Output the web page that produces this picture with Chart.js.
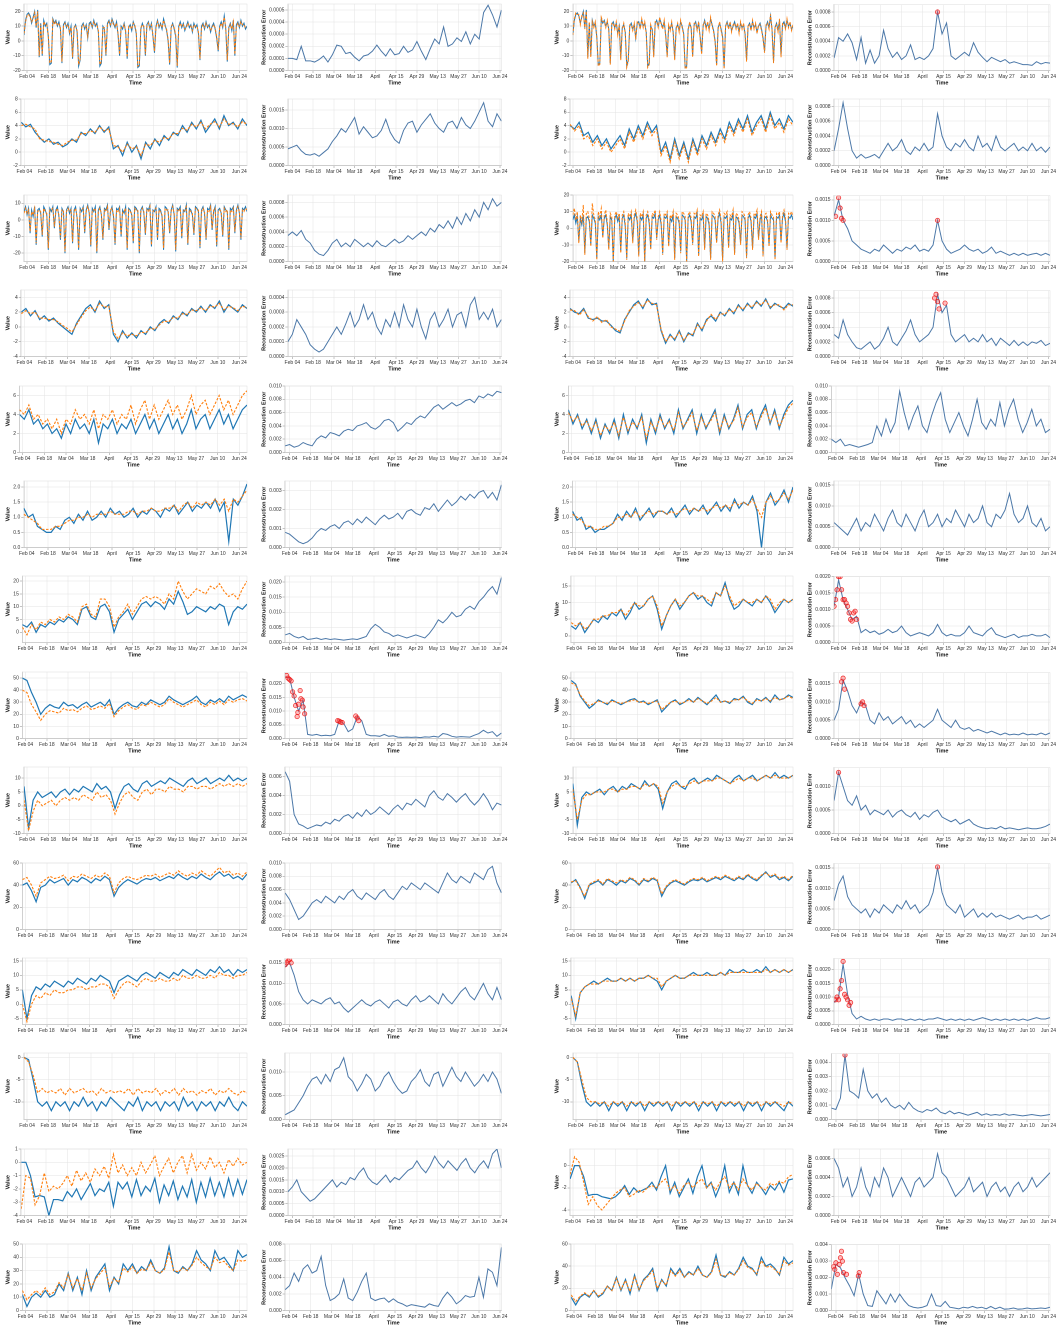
<!DOCTYPE html>
<html><head><meta charset="utf-8">
<script src="https://cdn.jsdelivr.net/npm/chart.js@4.4.1/dist/chart.umd.min.js"></script>
<style>
html,body{margin:0;padding:0;background:#fff;width:1061px;height:1329px;overflow:hidden;position:relative}
canvas{position:absolute}
</style></head><body>
<script>
// ---- time axis (days counted from Feb 04); samples are evenly spaced over each range ----
const X_TICK_DAYS = [0,14,28,42,56,70,84,98,112,126,140];
const X_TICK_LABELS = ['Feb 04','Feb 18','Mar 04','Mar 18','April','Apr 15','Apr 29','May 13','May 27','Jun 10','Jun 24'];
const VALUE_RANGE = [-2,145];
const ERROR_RANGE = [-3,141];

// ================= ROW 1 (daily samples) =================
const A1_actual=[4,14,18,19,17,12,16,20,9,21, -11,12,-10,14,10,12,3,-16,-15,15, 12,14,10,13,8,-15,11,13,9,12, 5,10,-12,9,11,6,-17,-13,10,12, 8,11,2,12,13,9,14,10,12,6, -17,-15,10,8,-10,12,14,10,15,12, 9,13,4,-10,10,8,12,6,-12,9, 11,7,13,10,5,-18,-17,8,12,9, -10,11,13,8,12,3,-8,10,14,9, 12,8,15,11,7,0,-16,9,12,8, 3,-18,10,13,9,12,7,10,13,9, 11,6,12,9,11,5,-13,10,12,8, 13,9,11,6,10,12,8,2,-7,10, 13,9,17,8,-14,9,12,7,14,-10, 11,13,9,14,10,12,8,10];
const A1_recon=[5,13,17,18,16,13,15,19,10,20, -10,11,-9,13,11,11,4,-15,-14,14, 11,13,11,12,9,-14,10,12,10,11, 6,9,-11,10,10,7,-16,-12,9,11, 9,10,3,11,12,10,13,11,11,7, -16,-14,9,9,-9,11,13,11,14,11, 10,12,5,-9,9,9,11,7,-11,10, 10,8,12,11,6,-17,-16,9,11,10, -9,10,12,9,11,4,-7,9,13,10, 11,9,14,10,8,1,-15,10,11,9, 4,-17,9,12,10,11,8,9,12,10, 10,7,11,10,10,6,-12,9,11,9, 12,10,10,7,9,11,9,3,-6,9, 12,10,16,9,-13,8,11,8,13,-9, 10,12,10,13,11,11,9,9];
const A1_error=[1.0e-4,1.0e-4,0.9e-4,2.0e-4,0.8e-4,0.8e-4,0.7e-4,0.9e-4,1.2e-4,0.7e-4, 1.3e-4,2.1e-4,2.0e-4,1.4e-4,1.5e-4,1.1e-4,0.8e-4,1.2e-4,1.3e-4,1.6e-4, 2.1e-4,1.6e-4,1.2e-4,1.8e-4,1.3e-4,1.4e-4,2.0e-4,1.5e-4,1.7e-4,2.4e-4, 1.6e-4,0.9e-4,1.8e-4,2.6e-4,2.2e-4,3.6e-4,2.0e-4,2.2e-4,2.7e-4,2.4e-4, 3.2e-4,2.2e-4,3.0e-4,2.6e-4,4.8e-4,5.4e-4,4.6e-4,3.6e-4,5.0e-4];
const A1_vTicks=['-20','-10','0','10','20'], A1_vDom=[-20,25];
const A1_eTicks=['0.0000','0.0001','0.0002','0.0003','0.0004','0.0005'], A1_eDom=[0,5.5e-4];
const B1_actual=A1_actual;
const B1_recon=[4,15,19,18,18,11,17,19,8,20, -12,13,-11,13,9,13,2,-17,-16,16, 13,13,9,14,7,-16,12,12,8,13, 4,11,-13,8,12,5,-18,-14,11,11, 7,12,1,13,12,8,15,9,13,5, -18,-16,11,7,-11,13,13,9,16,11, 8,14,3,-11,11,7,13,5,-13,8, 12,6,14,9,4,-19,-18,7,13,8, -11,12,12,7,13,2,-9,11,13,8, 13,7,16,10,6,-1,-17,8,13,7, 2,-19,11,12,8,13,6,11,12,8, 12,5,13,8,12,4,-14,11,11,7, 14,8,12,5,11,11,7,1,-8,11, 12,8,18,7,-15,10,11,6,15,-11, 12,12,8,15,9,13,7,11];
const B1_error=[1.7e-4,4.5e-4,4.0e-4,5.0e-4,3.8e-4,1.5e-4,4.5e-4,1.0e-4,2.8e-4,1.0e-4, 2.0e-4,5.5e-4,3.0e-4,1.8e-4,2.5e-4,1.5e-4,2.0e-4,3.5e-4,1.5e-4,1.8e-4, 1.5e-4,2.0e-4,3.0e-4,8.0e-4,5.0e-4,6.5e-4,2.0e-4,1.5e-4,2.0e-4,2.5e-4, 2.0e-4,3.8e-4,2.5e-4,1.8e-4,1.2e-4,1.8e-4,1.5e-4,1.2e-4,1.5e-4,1.0e-4, 1.2e-4,1.0e-4,0.8e-4,0.8e-4,0.7e-4,1.2e-4,0.9e-4,1.1e-4,1.0e-4];
const B1_anom=[[66,8.0e-4]];
const B1_vTicks=['-20','-10','0','10','20'], B1_vDom=[-20,25];
const B1_eTicks=['0.0000','0.0002','0.0004','0.0006','0.0008'], B1_eDom=[0,9e-4];

// ================= ROW 2 =================
const A2_actual=[4.5,3.8,4.2,3.0,2.2,1.5,2.0,1.2,1.5,0.8, 1.2,2.0,1.5,3.0,2.5,3.5,2.8,4.0,3.0,3.8, 0.5,1.0,-0.5,1.5,0.0,1.0,-1.0,1.5,0.5,2.0, 1.0,2.5,1.8,3.0,2.5,4.0,3.0,4.5,3.5,4.8, 3.0,4.0,5.0,3.5,5.5,4.0,4.5,3.5,5.0,4.0];
const A2_recon=[4.0,4.2,3.8,3.5,2.0,1.8,1.6,1.5,1.2,1.0, 1.5,1.8,1.8,2.8,2.8,3.2,3.0,3.8,3.2,3.5, 1.0,0.8,0.0,1.2,0.5,0.8,-0.5,1.2,1.0,1.8, 1.5,2.2,2.0,2.8,2.8,3.6,3.3,4.2,3.8,4.5, 3.5,4.2,4.6,3.8,5.0,4.2,4.3,3.8,4.6,4.2];
const A2_error=[4.5e-4,5.0e-4,5.5e-4,4.0e-4,3.0e-4,2.8e-4,3.2e-4,2.5e-4,3.5e-4,4.5e-4, 6.5e-4,8.0e-4,10.0e-4,9.0e-4,11.0e-4,13.0e-4,8.5e-4,10.5e-4,9.0e-4,7.5e-4, 8.0e-4,9.5e-4,12.5e-4,9.0e-4,7.0e-4,6.0e-4,9.5e-4,11.5e-4,12.0e-4,9.0e-4, 11.0e-4,12.5e-4,14.0e-4,11.5e-4,10.0e-4,9.0e-4,11.5e-4,12.0e-4,10.0e-4,13.0e-4, 11.0e-4,10.0e-4,12.0e-4,14.5e-4,17.0e-4,12.0e-4,10.5e-4,14.0e-4,12.0e-4];
const A2_vTicks=['-2','0','2','4','6','8'], A2_vDom=[-2,8];
const A2_eTicks=['0.0000','0.0005','0.0010','0.0015'], A2_eDom=[0,1.8e-3];
const B2_actual=[4.0,3.5,4.5,2.5,3.0,1.5,2.5,1.0,2.0,0.5, 1.5,2.5,1.0,3.5,2.0,4.0,2.5,4.5,3.0,4.0, 0.0,1.5,-1.0,2.0,-0.5,1.5,-1.0,2.0,0.0,2.5, 1.0,3.0,1.5,3.5,2.0,4.5,3.0,5.0,3.5,5.5, 3.0,4.5,5.5,3.5,6.0,4.0,5.0,3.5,5.5,4.5];
const B2_recon=[4.2,3.2,4.0,2.0,2.5,1.0,2.0,0.5,1.5,0.0, 1.0,2.0,0.5,3.0,1.5,3.5,2.0,4.0,2.5,3.5, -0.5,1.0,-1.5,1.5,-1.0,1.0,-1.5,1.5,-0.5,2.0, 0.5,2.5,1.0,3.0,1.5,4.0,2.5,4.5,3.0,5.0, 2.5,4.0,5.0,3.0,5.5,3.5,4.5,3.0,5.0,4.0];
const B2_error=[2.0e-4,5.0e-4,8.5e-4,5.0e-4,2.0e-4,1.0e-4,1.5e-4,1.0e-4,1.2e-4,1.5e-4, 1.0e-4,2.0e-4,3.0e-4,2.0e-4,2.5e-4,3.5e-4,2.0e-4,1.5e-4,2.5e-4,2.0e-4, 3.0e-4,2.0e-4,2.5e-4,7.0e-4,4.0e-4,2.5e-4,2.0e-4,3.0e-4,2.5e-4,3.5e-4, 2.5e-4,2.0e-4,4.0e-4,2.5e-4,3.0e-4,2.0e-4,4.0e-4,2.5e-4,2.0e-4,2.5e-4, 3.0e-4,2.0e-4,2.5e-4,2.0e-4,3.0e-4,2.0e-4,2.5e-4,1.8e-4,2.5e-4];
const B2_vTicks=['-2','0','2','4','6','8'], B2_vDom=[-2,8];
const B2_eTicks=['0.0000','0.0002','0.0004','0.0006','0.0008'], B2_eDom=[0,9e-4];

// ================= ROW 3 (daily samples) =================
const A3_actual=[5,8,3,7,-8,6,2,8,-15,6, 7,4,-10,8,6,3,-18,7,5,8, -5,6,8,2,-12,7,5,-20,6,8, 4,7,-14,6,8,1,-18,7,5,8, -8,6,9,4,-16,7,5,8,-20,6, 8,3,-12,7,6,9,-6,5,8,2, -15,7,6,8,-10,6,4,8,-18,7, 6,3,-14,8,7,5,-20,6,8,4, -9,7,6,9,-16,6,5,8,-12,7, 6,2,-18,8,7,5,-8,6,9,3, -19,7,6,8,-11,6,5,9,-15,7, 6,3,-9,8,7,5,-17,6,8,4, -12,7,6,9,-6,5,8,-16,6,7, 4,-10,8,6,5,-18,7,6,8,-8, 6,9,4,-12,7,6,8,5];
const A3_recon=[4,7,4,6,-7,5,3,7,-14,5, 6,5,-9,7,5,4,-17,6,6,7, -4,5,7,3,-11,6,6,-19,5,7, 5,6,-13,5,7,2,-17,6,6,7, -7,5,8,5,-15,6,6,7,-19,5, 7,4,-11,6,5,8,-5,6,7,3, -14,6,5,7,-9,5,5,7,-17,6, 5,4,-13,7,6,6,-19,5,7,5, -8,6,5,8,-15,5,6,7,-11,6, 5,3,-17,7,6,6,-7,5,8,4, -18,6,5,7,-10,5,6,8,-14,6, 5,4,-8,7,6,6,-16,5,7,5, -11,6,5,8,-5,6,7,-15,5,6, 5,-9,7,5,6,-17,6,5,7,-7, 5,8,5,-11,6,5,7,6];
const A3_error=[3.5e-4,4.0e-4,3.5e-4,4.2e-4,3.0e-4,2.5e-4,1.5e-4,1.0e-4,0.8e-4,1.5e-4, 2.5e-4,3.0e-4,2.0e-4,2.5e-4,2.0e-4,3.0e-4,2.5e-4,2.0e-4,2.5e-4,2.0e-4, 2.8e-4,2.2e-4,2.0e-4,2.5e-4,3.0e-4,2.5e-4,2.8e-4,3.5e-4,3.0e-4,3.5e-4, 4.0e-4,3.5e-4,4.5e-4,4.0e-4,5.0e-4,4.5e-4,5.5e-4,4.5e-4,6.0e-4,5.0e-4, 6.5e-4,5.5e-4,7.0e-4,6.0e-4,8.0e-4,7.0e-4,8.5e-4,7.5e-4,8.0e-4];
const A3_vTicks=['-20','-10','0','10'], A3_vDom=[-25,15];
const A3_eTicks=['0.0000','0.0002','0.0004','0.0006','0.0008'], A3_eDom=[0,9e-4];
const B3_actual=A3_actual;
const B3_recon=[8,12,5,10,-9,8,4,14,-16,9, 10,6,-11,15,8,5,-19,10,7,12, -6,8,11,4,-13,9,7,-20,8,10, 6,9,-15,8,10,3,-19,9,7,10, -9,8,11,6,-17,9,7,10,-20,8, 10,5,-13,9,8,11,-7,7,10,4, -16,9,8,10,-11,8,6,10,-19,9, 8,5,-15,10,9,7,-20,8,10,6, -10,9,8,11,-17,8,7,10,-13,9, 8,4,-19,10,9,7,-9,8,11,5, -20,9,8,10,-12,8,7,11,-16,9, 8,5,-10,10,9,7,-18,8,10,6, -13,9,8,11,-7,7,10,-17,8,9, 6,-11,10,8,7,-19,9,8,10,-9, 8,11,6,-13,9,8,10,7];
const B3_error=[1.1e-3,1.5e-3,1.0e-3,0.8e-3,0.5e-3,0.4e-3,0.3e-3,0.25e-3,0.2e-3,0.3e-3, 0.25e-3,0.4e-3,0.3e-3,0.2e-3,0.3e-3,0.25e-3,0.35e-3,0.3e-3,0.4e-3,0.25e-3, 0.3e-3,0.25e-3,0.4e-3,1.0e-3,0.5e-3,0.3e-3,0.2e-3,0.25e-3,0.3e-3,0.4e-3, 0.3e-3,0.25e-3,0.3e-3,0.2e-3,0.25e-3,0.35e-3,0.2e-3,0.25e-3,0.2e-3,0.15e-3, 0.2e-3,0.15e-3,0.2e-3,0.15e-3,0.18e-3,0.2e-3,0.15e-3,0.2e-3,0.15e-3];
const B3_anom=[[-2,1.1e-3],[0,1.55e-3],[1,1.3e-3],[2,1.05e-3],[3,1.0e-3],[66,1.0e-3]];
const B3_vTicks=['-20','-10','0','10','20'], B3_vDom=[-20,20];
const B3_eTicks=['0.0000','0.0005','0.0010','0.0015'], B3_eDom=[0,1.6e-3];

// ================= ROW 4 =================
const A4_actual=[2.0,2.5,1.5,2.2,1.0,1.5,0.8,1.2,0.5,0.0, -0.5,-1.0,0.5,1.5,2.5,3.0,2.0,3.5,2.5,3.0, -1.0,-2.0,-0.5,-1.5,-0.8,-1.5,-0.5,-1.0,0.0,-0.5, 0.5,1.0,0.5,1.5,1.0,2.0,1.5,2.5,2.0,2.8, 2.0,3.0,2.5,3.5,2.0,3.0,2.5,2.0,3.0,2.5];
const A4_recon=[1.8,2.2,1.8,2.0,1.2,1.2,1.0,1.0,0.7,0.2, -0.2,-0.7,0.3,1.3,2.2,2.7,2.2,3.2,2.7,2.8, -0.6,-1.6,-0.8,-1.2,-1.0,-1.2,-0.7,-0.8,-0.2,-0.3, 0.3,0.8,0.7,1.3,1.2,1.8,1.7,2.3,2.2,2.6, 2.2,2.8,2.7,3.2,2.3,2.8,2.6,2.2,2.8,2.6];
const A4_error=[1.0e-4,1.5e-4,2.5e-4,2.0e-4,1.5e-4,0.8e-4,0.5e-4,0.3e-4,0.5e-4,1.0e-4, 1.5e-4,2.0e-4,1.5e-4,2.2e-4,3.0e-4,2.0e-4,2.5e-4,3.5e-4,2.5e-4,3.0e-4, 2.0e-4,1.5e-4,2.5e-4,2.0e-4,3.0e-4,2.0e-4,3.5e-4,2.5e-4,2.0e-4,3.2e-4, 2.0e-4,1.2e-4,2.5e-4,3.0e-4,2.0e-4,2.5e-4,3.2e-4,2.0e-4,2.8e-4,3.0e-4, 2.0e-4,3.5e-4,4.0e-4,2.5e-4,3.0e-4,2.5e-4,3.2e-4,2.0e-4,2.5e-4];
const A4_vTicks=['-4','-2','0','2','4'], A4_vDom=[-4,5];
const A4_eTicks=['0.0000','0.0001','0.0002','0.0003','0.0004'], A4_eDom=[0,4.5e-4];
const B4_actual=[2.5,2.0,1.8,2.5,1.2,1.0,1.2,0.8,0.8,0.2, -0.5,-0.8,1.0,2.0,3.0,3.5,2.5,3.8,3.0,3.2, -0.5,-2.2,-1.0,-1.8,-0.5,-2.0,-0.8,-1.2,0.5,-0.5, 1.0,1.5,0.8,2.0,1.5,2.5,1.8,3.0,2.2,3.2, 2.5,3.5,2.8,3.8,2.5,3.2,2.8,2.5,3.2,2.8];
const B4_recon=[2.3,2.2,1.6,2.3,1.4,0.8,1.4,0.6,1.0,0.0, -0.3,-0.6,0.8,2.2,2.8,3.3,2.7,3.6,3.2,3.0, -0.3,-2.0,-1.2,-1.6,-0.7,-1.8,-1.0,-1.0,0.3,-0.3, 0.8,1.7,1.0,1.8,1.7,2.3,2.0,2.8,2.4,3.0, 2.7,3.3,3.0,3.6,2.7,3.0,3.0,2.3,3.0,3.0];
const B4_error=[3.0e-4,2.5e-4,5.0e-4,3.0e-4,2.0e-4,1.2e-4,1.0e-4,1.5e-4,2.0e-4,1.0e-4, 1.5e-4,2.5e-4,4.0e-4,2.0e-4,1.5e-4,2.5e-4,3.5e-4,5.0e-4,3.0e-4,2.0e-4, 2.5e-4,3.0e-4,4.0e-4,8.5e-4,6.0e-4,7.0e-4,3.0e-4,2.0e-4,2.5e-4,3.0e-4, 2.0e-4,2.5e-4,2.0e-4,3.0e-4,2.0e-4,2.5e-4,1.5e-4,2.5e-4,2.0e-4,1.5e-4, 2.2e-4,1.5e-4,2.0e-4,1.5e-4,2.0e-4,1.8e-4,2.2e-4,1.5e-4,1.8e-4];
const B4_anom=[[64,8.0e-4],[65,8.5e-4],[66,7.5e-4],[67,6.5e-4],[71,7.3e-4]];
const B4_vTicks=['-4','-2','0','2','4'], B4_vDom=[-4,5];
const B4_eTicks=['0.0000','0.0002','0.0004','0.0006','0.0008'], B4_eDom=[0,9e-4];

// ================= ROW 5 =================
const A5_actual=[4.0,3.5,4.5,3.0,3.5,2.5,3.0,2.0,2.5,1.5, 3.0,2.0,3.5,2.5,3.0,2.0,3.5,1.0,3.0,2.5, 3.5,2.0,3.0,2.5,3.5,2.0,3.0,4.0,2.5,3.5, 2.0,3.0,4.0,2.5,3.5,2.0,3.0,4.5,2.5,3.5, 4.0,2.5,3.5,4.5,3.0,4.0,2.5,3.5,4.5,5.0];
const A5_recon=[4.5,4.0,5.0,3.5,4.0,3.0,3.5,2.5,3.5,2.0, 3.5,3.0,4.5,3.5,4.0,3.0,4.5,2.5,4.0,3.5, 4.5,3.0,4.0,3.5,5.0,3.0,4.5,5.5,3.5,5.0, 3.5,4.5,5.5,4.0,5.0,3.5,4.5,6.0,4.0,5.0, 5.5,4.0,5.0,6.0,4.5,5.5,4.0,5.0,6.0,6.5];
const A5_error=[1.0e-3,1.2e-3,0.8e-3,1.0e-3,1.5e-3,1.2e-3,1.0e-3,2.0e-3,2.5e-3,2.2e-3, 3.0e-3,2.8e-3,2.5e-3,3.2e-3,3.5e-3,3.3e-3,4.0e-3,4.2e-3,4.5e-3,3.8e-3, 3.5e-3,4.0e-3,4.8e-3,5.0e-3,4.5e-3,3.2e-3,3.8e-3,4.5e-3,4.2e-3,5.0e-3, 5.5e-3,5.2e-3,6.0e-3,6.8e-3,7.2e-3,6.5e-3,7.0e-3,7.5e-3,7.0e-3,7.3e-3, 7.8e-3,8.0e-3,7.5e-3,8.5e-3,8.2e-3,8.8e-3,8.5e-3,9.2e-3,9.0e-3];
const A5_vTicks=['0','2','4','6'], A5_vDom=[0,7];
const A5_eTicks=['0.000','0.002','0.004','0.006','0.008','0.010'], A5_eDom=[0,0.010];
const B5_actual=[4.5,3.0,4.0,2.5,3.5,2.0,3.5,1.5,3.0,2.0, 3.5,1.5,4.0,2.0,3.5,2.5,4.0,1.0,3.5,2.0, 4.0,2.5,3.5,2.0,4.5,2.5,3.5,4.5,2.0,4.0, 2.5,3.5,4.5,2.0,4.0,2.5,3.5,5.0,2.5,4.0, 4.5,2.5,4.0,5.0,3.0,4.5,2.5,4.0,5.0,5.5];
const B5_recon=[4.2,3.3,3.8,2.8,3.3,2.3,3.2,1.8,2.8,2.3, 3.2,1.8,3.7,2.3,3.2,2.7,3.7,1.5,3.2,2.3, 3.7,2.7,3.3,2.3,4.2,2.7,3.3,4.2,2.3,3.7, 2.7,3.3,4.2,2.3,3.7,2.7,3.3,4.7,2.7,3.7, 4.2,2.7,3.7,4.7,3.2,4.2,2.7,3.7,4.7,5.2];
const B5_error=[2.0e-3,1.5e-3,2.0e-3,1.0e-3,1.2e-3,1.0e-3,0.8e-3,1.0e-3,1.2e-3,1.5e-3, 4.0e-3,2.5e-3,5.0e-3,3.0e-3,4.5e-3,9.2e-3,6.0e-3,3.5e-3,5.5e-3,7.0e-3, 4.0e-3,3.0e-3,5.5e-3,7.5e-3,9.0e-3,5.0e-3,3.0e-3,4.5e-3,6.0e-3,4.0e-3, 2.5e-3,5.0e-3,8.0e-3,4.5e-3,3.5e-3,5.0e-3,4.0e-3,7.5e-3,4.0e-3,6.5e-3, 8.0e-3,5.0e-3,3.0e-3,4.5e-3,6.5e-3,4.0e-3,5.0e-3,3.0e-3,3.5e-3];
const B5_vTicks=['0','2','4','6'], B5_vDom=[0,7];
const B5_eTicks=['0.000','0.002','0.004','0.006','0.008','0.010'], B5_eDom=[0,0.010];

// ================= ROW 6 =================
const A6_actual=[1.3,1.0,1.1,0.7,0.6,0.5,0.5,0.7,0.6,0.9, 1.0,0.8,1.1,0.9,1.2,0.9,1.0,1.2,1.0,1.3, 1.1,1.2,1.0,1.1,1.3,1.0,1.2,1.1,1.3,1.2, 1.0,1.3,1.2,1.4,1.1,1.3,1.5,1.2,1.4,1.3, 1.5,1.3,1.6,1.2,1.5,0.2,1.6,1.4,1.7,2.1];
const A6_recon=[1.1,1.0,0.9,0.8,0.6,0.6,0.6,0.7,0.7,0.8, 0.9,0.9,1.0,1.0,1.1,1.0,1.1,1.1,1.1,1.2, 1.1,1.1,1.1,1.2,1.2,1.1,1.2,1.2,1.3,1.2, 1.2,1.3,1.3,1.4,1.2,1.4,1.5,1.3,1.5,1.4, 1.5,1.4,1.6,1.4,1.6,1.2,1.6,1.5,1.7,1.9];
const A6_error=[0.8e-3,0.7e-3,0.5e-3,0.3e-3,0.2e-3,0.3e-3,0.5e-3,0.8e-3,1.0e-3,0.9e-3, 1.1e-3,1.2e-3,1.0e-3,1.3e-3,1.4e-3,1.2e-3,1.5e-3,1.3e-3,1.6e-3,1.4e-3, 1.2e-3,1.5e-3,1.7e-3,1.5e-3,1.6e-3,1.8e-3,1.5e-3,1.9e-3,2.0e-3,1.8e-3, 1.7e-3,2.1e-3,2.0e-3,2.3e-3,1.9e-3,2.2e-3,2.5e-3,2.2e-3,2.4e-3,2.7e-3, 2.5e-3,2.8e-3,2.6e-3,2.9e-3,3.0e-3,2.6e-3,2.9e-3,2.5e-3,3.3e-3];
const A6_vTicks=['0.0','0.5','1.0','1.5','2.0'], A6_vDom=[0,2.2];
const A6_eTicks=['0.000','0.001','0.002','0.003'], A6_eDom=[0,3.5e-3];
const B6_actual=[1.2,0.9,1.0,0.6,0.7,0.5,0.6,0.6,0.7,0.8, 1.1,0.9,1.2,1.0,1.3,0.9,1.1,1.3,1.0,1.2, 1.2,1.1,1.3,1.0,1.2,1.4,1.1,1.3,1.2,1.4, 1.1,1.3,1.5,1.2,1.4,1.2,1.6,1.3,1.5,1.4, 1.7,1.2,0.0,1.5,1.8,1.4,1.6,1.9,1.5,2.0];
const B6_recon=[1.1,1.0,0.9,0.7,0.7,0.6,0.6,0.7,0.7,0.8, 1.0,1.0,1.1,1.0,1.2,1.0,1.1,1.2,1.1,1.2, 1.2,1.1,1.2,1.1,1.2,1.3,1.2,1.3,1.2,1.3, 1.2,1.3,1.4,1.3,1.4,1.3,1.5,1.4,1.5,1.4, 1.6,1.3,1.0,1.5,1.7,1.5,1.6,1.8,1.6,1.9];
const B6_error=[0.6e-3,0.5e-3,0.4e-3,0.3e-3,0.5e-3,0.7e-3,0.4e-3,0.6e-3,0.5e-3,0.8e-3, 0.6e-3,0.4e-3,0.7e-3,0.9e-3,0.6e-3,0.5e-3,0.8e-3,0.6e-3,0.4e-3,0.7e-3, 0.9e-3,0.5e-3,0.6e-3,0.8e-3,0.5e-3,0.7e-3,0.6e-3,0.9e-3,0.7e-3,0.5e-3, 0.8e-3,0.6e-3,0.7e-3,1.0e-3,0.6e-3,0.5e-3,0.8e-3,0.7e-3,0.9e-3,1.3e-3, 0.8e-3,0.6e-3,0.7e-3,1.0e-3,0.6e-3,0.5e-3,0.7e-3,0.4e-3,0.5e-3];
const B6_vTicks=['0.0','0.5','1.0','1.5','2.0'], B6_vDom=[0,2.2];
const B6_eTicks=['0.0000','0.0005','0.0010','0.0015'], B6_eDom=[0,1.6e-3];

// ================= ROW 7 =================
const A7_actual=[3,2,4,0,3,2,4,3,5,4, 6,5,3,9,10,6,5,10,11,8, 0,5,7,9,5,8,11,12,10,12, 11,9,13,11,16,12,7,8,10,9, 8,10,9,11,10,3,8,10,9,11];
const A7_recon=[2,-1,3,1,4,3,5,4,6,5, 7,6,4,10,11,7,6,13,13,10, 2,6,8,11,7,10,13,14,13,14, 13,11,15,13,20,16,13,15,17,16, 15,18,17,19,16,14,15,13,17,20];
const A7_error=[2.5e-3,3.0e-3,2.0e-3,1.5e-3,2.0e-3,1.0e-3,1.2e-3,1.5e-3,1.0e-3,1.3e-3, 1.0e-3,1.2e-3,1.0e-3,0.8e-3,1.0e-3,1.2e-3,1.0e-3,1.5e-3,2.0e-3,4.5e-3, 6.0e-3,5.0e-3,3.5e-3,3.0e-3,2.0e-3,2.5e-3,2.0e-3,1.5e-3,2.0e-3,2.5e-3, 2.0e-3,1.5e-3,3.0e-3,5.0e-3,7.5e-3,6.5e-3,8.0e-3,10.0e-3,8.5e-3,9.0e-3, 11.0e-3,12.0e-3,11.0e-3,13.5e-3,15.0e-3,17.0e-3,18.5e-3,16.0e-3,21.5e-3];
const A7_vTicks=['0','5','10','15','20'], A7_vDom=[-4,22];
const A7_eTicks=['0.000','0.005','0.010','0.015','0.020'], A7_eDom=[0,0.022];
const B7_actual=[3,2,4,1,3,5,4,6,5,7, 6,8,5,7,10,8,9,11,12,8, 2,6,9,11,8,10,12,13,11,12, 10,9,13,12,16,11,8,9,11,10, 9,11,10,12,10,7,9,11,10,11];
const B7_recon=[4,3,4,2,3,5,5,6,6,7, 7,8,6,8,10,9,9,11,12,9, 3,6,9,11,9,10,12,13,12,12, 11,10,13,12,15,12,9,10,11,10, 10,11,10,12,11,8,10,11,10,11];
const B7_error=[1.1e-3,1.9e-3,1.3e-3,1.0e-3,0.7e-3,0.8e-3,0.3e-3,0.4e-3,0.3e-3,0.35e-3, 0.25e-3,0.3e-3,0.4e-3,0.3e-3,0.35e-3,0.5e-3,0.3e-3,0.2e-3,0.25e-3,0.3e-3, 0.25e-3,0.2e-3,0.3e-3,0.55e-3,0.3e-3,0.2e-3,0.25e-3,0.2e-3,0.2e-3,0.3e-3, 0.5e-3,0.3e-3,0.25e-3,0.2e-3,0.35e-3,0.45e-3,0.25e-3,0.2e-3,0.15e-3,0.2e-3, 0.25e-3,0.15e-3,0.2e-3,0.2e-3,0.25e-3,0.2e-3,0.2e-3,0.25e-3,0.15e-3];
const B7_anom=[[-3,1.1e-3],[-2,1.3e-3],[-1,1.6e-3],[0,2.0e-3],[1,2.0e-3],[2,1.6e-3],[3,1.3e-3],[4,1.3e-3],[5,1.2e-3],[6,1.1e-3],[7,0.9e-3],[8,0.7e-3],[9,0.65e-3],[10,0.9e-3],[11,0.95e-3],[12,0.7e-3]];
const B7_vTicks=['0','5','10','15'], B7_vDom=[-2,18];
const B7_eTicks=['0.0000','0.0005','0.0010','0.0015','0.0020'], B7_eDom=[0,2.0e-3];

// ================= ROW 8 =================
const A8_actual=[50,48,38,30,20,25,28,26,25,30, 27,28,25,28,30,26,28,30,27,32, 20,25,28,30,27,26,30,28,32,30, 28,30,35,32,30,28,30,32,35,30, 28,32,30,33,30,35,32,34,36,34];
const A8_recon=[40,38,28,22,15,20,23,22,21,25, 23,24,22,25,27,24,25,27,25,29, 18,23,26,28,25,24,28,27,30,28, 26,28,33,30,28,26,28,30,32,28, 26,30,28,31,28,32,30,32,33,31];
const A8_error=[22.5e-3,22.0e-3,15.0e-3,10.0e-3,14.0e-3,1.5e-3,1.2e-3,1.5e-3,1.0e-3,1.2e-3, 1.0e-3,1.5e-3,6.5e-3,5.5e-3,2.5e-3,3.5e-3,8.0e-3,6.5e-3,1.5e-3,1.0e-3, 1.0e-3,0.8e-3,1.5e-3,0.8e-3,1.0e-3,0.5e-3,0.4e-3,0.5e-3,0.4e-3,0.5e-3, 0.3e-3,0.6e-3,0.5e-3,0.8e-3,0.5e-3,1.8e-3,1.5e-3,0.8e-3,0.5e-3,0.7e-3, 0.6e-3,0.5e-3,1.2e-3,1.8e-3,3.0e-3,2.0e-3,2.5e-3,0.8e-3,2.0e-3];
const A8_anom=[[-2,23e-3],[-1,22e-3],[0,21.5e-3],[1,21e-3],[2,17e-3],[3,15.5e-3],[4,12e-3],[5,8e-3],[5.5,9.5e-3],[6,12.5e-3],[7,17.5e-3],[7.5,14.5e-3],[8.5,14e-3],[9,11.5e-3],[10,9e-3],[32,6.5e-3],[33,6.3e-3],[34,6e-3],[35,5.8e-3],[44,8.2e-3],[45,7.5e-3],[46,6.5e-3]];
const A8_vTicks=['0','10','20','30','40','50'], A8_vDom=[0,55];
const A8_eTicks=['0.000','0.005','0.010','0.015','0.020'], A8_eDom=[0,0.024];
const B8_actual=[48,45,35,30,25,28,32,30,28,32, 30,28,30,32,33,30,31,28,30,32, 22,26,30,32,28,30,33,30,34,31, 28,32,36,30,31,29,33,32,35,30, 28,33,31,34,30,36,32,33,36,34];
const B8_recon=[46,44,36,31,27,29,31,30,29,31, 30,29,30,31,32,30,30,29,30,31, 24,27,30,31,29,30,32,30,33,31, 29,31,34,30,31,30,32,32,34,31, 29,32,31,33,31,34,32,33,35,33];
const B8_error=[0.5e-3,0.8e-3,1.6e-3,1.3e-3,0.9e-3,0.7e-3,1.0e-3,0.9e-3,0.5e-3,0.4e-3, 0.7e-3,0.5e-3,0.6e-3,0.4e-3,0.5e-3,0.6e-3,0.4e-3,0.5e-3,0.3e-3,0.4e-3, 0.3e-3,0.4e-3,0.5e-3,0.8e-3,0.5e-3,0.4e-3,0.3e-3,0.5e-3,0.3e-3,0.25e-3, 0.3e-3,0.2e-3,0.25e-3,0.2e-3,0.15e-3,0.2e-3,0.15e-3,0.1e-3,0.15e-3,0.1e-3, 0.12e-3,0.1e-3,0.15e-3,0.1e-3,0.12e-3,0.1e-3,0.15e-3,0.1e-3,0.15e-3];
const B8_anom=[[2,1.55e-3],[3,1.65e-3],[4,1.35e-3],[15,0.95e-3],[16,1.0e-3],[17,0.9e-3]];
const B8_vTicks=['0','10','20','30','40','50'], B8_vDom=[0,55];
const B8_eTicks=['0.0000','0.0005','0.0010','0.0015'], B8_eDom=[0,1.8e-3];

// ================= ROW 9 =================
const A9_actual=[7,-8,2,5,3,4,5,3,5,6, 4,6,5,7,6,5,8,6,7,5, -1,4,7,8,6,5,8,9,7,8, 9,8,10,9,8,7,9,10,8,9, 10,8,9,10,9,11,9,10,9,10];
const A9_recon=[2,-9,-2,2,0,1,2,0,2,3, 2,3,2,4,3,2,5,3,4,2, -3,1,4,5,3,2,5,6,4,6, 6,5,7,6,6,5,7,7,6,7, 7,6,7,8,7,8,7,8,7,8];
const A9_error=[6.5e-3,5.5e-3,2.0e-3,1.0e-3,0.8e-3,0.5e-3,0.7e-3,0.9e-3,0.8e-3,1.2e-3, 1.0e-3,1.5e-3,1.3e-3,1.8e-3,2.0e-3,1.6e-3,2.2e-3,1.8e-3,2.5e-3,2.0e-3, 2.3e-3,2.8e-3,2.4e-3,2.0e-3,2.6e-3,3.0e-3,2.5e-3,3.2e-3,3.0e-3,3.6e-3, 3.2e-3,2.8e-3,4.0e-3,4.5e-3,3.8e-3,3.5e-3,4.2e-3,3.8e-3,3.3e-3,3.8e-3, 4.2e-3,3.5e-3,3.0e-3,3.5e-3,4.2e-3,3.5e-3,2.5e-3,3.2e-3,3.0e-3];
const A9_vTicks=['-10','-5','0','5','10'], A9_vDom=[-10,14];
const A9_eTicks=['0.000','0.002','0.004','0.006'], A9_eDom=[0,7e-3];
const B9_actual=[8,-7,3,5,4,5,6,4,6,7, 5,7,6,8,7,6,9,7,8,6, -1,5,8,9,7,6,9,10,8,9, 10,9,11,10,9,8,10,11,9,10, 11,9,10,11,10,12,10,11,10,11];
const B9_recon=[6,-5,2,4,4,5,5,5,6,6, 5,6,6,7,7,6,8,7,8,7, 1,5,7,8,7,7,8,9,8,9, 9,9,10,10,9,8,9,10,9,10, 10,9,10,11,10,11,10,10,10,11];
const B9_error=[0.7e-3,1.3e-3,1.0e-3,0.7e-3,0.6e-3,0.8e-3,0.5e-3,0.6e-3,0.4e-3,0.5e-3, 0.45e-3,0.4e-3,0.5e-3,0.35e-3,0.45e-3,0.5e-3,0.4e-3,0.35e-3,0.45e-3,0.3e-3, 0.4e-3,0.35e-3,0.45e-3,0.5e-3,0.35e-3,0.3e-3,0.25e-3,0.3e-3,0.2e-3,0.25e-3, 0.3e-3,0.2e-3,0.15e-3,0.12e-3,0.1e-3,0.12e-3,0.1e-3,0.15e-3,0.1e-3,0.12e-3, 0.1e-3,0.08e-3,0.1e-3,0.12e-3,0.1e-3,0.1e-3,0.12e-3,0.15e-3,0.2e-3];
const B9_anom=[[0,1.3e-3]];
const B9_vTicks=['-10','-5','0','5','10'], B9_vDom=[-10,14];
const B9_eTicks=['0.0000','0.0005','0.0010'], B9_eDom=[0,1.4e-3];

// ================= ROW 10 =================
const A10_actual=[40,42,35,25,38,40,45,42,44,46, 40,45,43,47,45,42,46,44,48,45, 30,38,42,45,43,41,44,46,45,47, 44,46,48,46,50,47,45,48,46,50, 47,45,49,52,48,50,46,48,45,50];
const A10_recon=[45,47,40,30,42,45,48,46,47,49, 44,48,47,50,48,46,49,47,51,48, 33,42,46,48,46,45,47,49,48,50, 47,49,51,49,53,50,48,51,49,53, 50,48,52,56,51,53,49,51,48,52];
const A10_error=[5.5e-3,4.5e-3,3.0e-3,1.5e-3,2.0e-3,3.0e-3,4.0e-3,4.5e-3,4.0e-3,5.0e-3, 4.5e-3,4.0e-3,5.0e-3,4.5e-3,5.5e-3,6.0e-3,5.0e-3,4.5e-3,5.5e-3,5.0e-3, 4.5e-3,5.5e-3,6.0e-3,5.0e-3,4.5e-3,5.5e-3,6.5e-3,6.0e-3,7.0e-3,6.5e-3, 6.0e-3,7.0e-3,6.5e-3,6.0e-3,5.5e-3,7.0e-3,8.5e-3,7.5e-3,7.0e-3,8.0e-3, 7.5e-3,7.0e-3,8.5e-3,8.0e-3,7.5e-3,9.0e-3,9.5e-3,7.0e-3,5.5e-3];
const A10_vTicks=['0','20','40','60'], A10_vDom=[0,60];
const A10_eTicks=['0.000','0.002','0.004','0.006','0.008','0.010'], A10_eDom=[0,0.010];
const B10_actual=[42,45,38,28,40,42,44,40,45,43, 40,44,42,46,44,40,45,43,46,44, 30,38,42,44,42,40,43,45,44,46, 43,45,47,45,48,46,44,47,45,49, 46,44,48,52,47,49,45,47,44,48];
const B10_recon=[43,44,37,30,41,43,45,41,46,44, 42,45,43,47,45,41,46,44,47,45, 32,39,43,45,43,41,44,46,45,47, 44,46,48,46,49,47,45,48,46,50, 47,45,49,51,48,50,46,48,45,49];
const B10_error=[0.7e-3,1.1e-3,1.3e-3,0.8e-3,0.6e-3,0.5e-3,0.4e-3,0.5e-3,0.3e-3,0.5e-3, 0.4e-3,0.6e-3,0.5e-3,0.4e-3,0.6e-3,0.5e-3,0.7e-3,0.5e-3,0.6e-3,0.4e-3, 0.5e-3,0.6e-3,0.9e-3,1.5e-3,0.9e-3,0.6e-3,0.5e-3,0.4e-3,0.6e-3,0.3e-3, 0.4e-3,0.5e-3,0.3e-3,0.4e-3,0.3e-3,0.4e-3,0.3e-3,0.35e-3,0.3e-3,0.25e-3, 0.3e-3,0.35e-3,0.25e-3,0.3e-3,0.3e-3,0.35e-3,0.25e-3,0.3e-3,0.35e-3];
const B10_anom=[[66,1.52e-3]];
const B10_vTicks=['0','20','40','60'], B10_vDom=[0,60];
const B10_eTicks=['0.0000','0.0005','0.0010','0.0015'], B10_eDom=[0,1.6e-3];

// ================= ROW 11 =================
const A11_actual=[5,-5,3,6,5,7,6,8,7,6, 8,7,9,8,7,9,8,10,9,8, 4,8,9,10,9,8,10,11,10,9, 11,10,9,11,10,12,11,10,12,11, 10,12,11,13,11,12,10,12,11,12];
const A11_recon=[0,-6,0,3,2,4,3,5,4,4, 5,5,6,6,5,6,6,7,7,6, 2,5,7,8,7,6,8,9,8,8, 9,8,8,9,8,10,9,9,10,9, 9,10,9,11,10,10,9,10,10,11];
const A11_error=[14e-3,15e-3,12e-3,8e-3,6e-3,5e-3,6e-3,5.5e-3,5e-3,6e-3, 6.5e-3,5e-3,5.5e-3,4e-3,3e-3,4e-3,5e-3,6e-3,5e-3,4.5e-3, 5.5e-3,6e-3,5e-3,4e-3,5.5e-3,6e-3,5e-3,4.5e-3,6e-3,7e-3, 5.5e-3,6e-3,7e-3,6e-3,5e-3,7.5e-3,6e-3,5e-3,6.5e-3,8e-3, 9e-3,7e-3,6e-3,8e-3,10e-3,7.5e-3,6e-3,9e-3,6e-3];
const A11_anom=[[-3,14.5e-3],[-2,15e-3],[-1,15.5e-3],[0,15.8e-3],[1,15e-3]];
const A11_vTicks=['-5','0','5','10','15'], A11_vDom=[-7,16];
const A11_eTicks=['0.000','0.005','0.010','0.015'], A11_eDom=[0,0.016];
const B11_actual=[3,-5,4,6,7,8,7,8,9,8, 8,9,8,9,8,9,9,10,9,8, 5,8,9,10,9,9,10,11,10,10, 11,10,10,11,10,12,11,11,12,11, 11,12,11,13,11,12,11,12,11,12];
const B11_recon=[2,-4,4,6,7,7,7,8,8,8, 8,9,8,9,8,9,9,10,9,9, 6,8,9,10,9,9,10,10,10,10, 10,10,10,11,10,11,11,11,11,11, 11,11,11,12,11,12,11,12,11,12];
const B11_error=[0.8e-3,1.0e-3,2.2e-3,1.1e-3,0.4e-3,0.2e-3,0.3e-3,0.2e-3,0.15e-3,0.2e-3, 0.15e-3,0.2e-3,0.2e-3,0.15e-3,0.2e-3,0.2e-3,0.15e-3,0.2e-3,0.15e-3,0.2e-3, 0.15e-3,0.2e-3,0.2e-3,0.25e-3,0.2e-3,0.15e-3,0.2e-3,0.15e-3,0.2e-3,0.15e-3, 0.2e-3,0.15e-3,0.2e-3,0.25e-3,0.2e-3,0.15e-3,0.2e-3,0.15e-3,0.2e-3,0.15e-3, 0.2e-3,0.15e-3,0.2e-3,0.15e-3,0.2e-3,0.25e-3,0.2e-3,0.2e-3,0.25e-3];
const B11_anom=[[-2,0.9e-3],[-1,1.0e-3],[0,0.9e-3],[1,1.3e-3],[2,1.6e-3],[3,2.3e-3],[4,1.1e-3],[5,1.0e-3],[6,0.9e-3],[7,0.7e-3],[8,0.8e-3]];
const B11_vTicks=['-5','0','5','10','15'], B11_vDom=[-7,16];
const B11_eTicks=['0.0000','0.0005','0.0010','0.0015','0.0020'], B11_eDom=[0,2.4e-3];

// ================= ROW 12 =================
const A12_actual=[0,-0.5,-5,-10,-11,-10,-12,-10,-11,-10, -12,-10,-11,-9,-11,-10,-12,-10,-11,-9, -10,-11,-12,-10,-11,-9,-12,-10,-11,-10, -12,-10,-11,-10,-12,-9,-11,-10,-12,-10, -11,-10,-12,-10,-11,-9,-11,-12,-10,-11];
const A12_recon=[0,-1,-4,-8,-7,-8,-7.5,-8,-7,-8.5, -7,-8,-7.5,-7,-8,-7.5,-8.5,-7,-8,-7.5, -8,-7.5,-8,-7,-8.5,-7,-8,-7.5,-8,-7, -8.5,-7.5,-8,-7,-8.5,-7,-8,-7.5,-8.5,-7.5, -8,-7,-8.5,-7.5,-8,-7,-8,-8.5,-7.5,-8];
const A12_error=[1.0e-3,1.5e-3,2.0e-3,3.5e-3,5.0e-3,7.0e-3,8.5e-3,9.0e-3,7.5e-3,9.5e-3, 8.0e-3,10.5e-3,11.0e-3,13.0e-3,9.0e-3,8.0e-3,6.0e-3,7.5e-3,9.5e-3,8.5e-3, 6.0e-3,7.0e-3,9.0e-3,10.0e-3,8.0e-3,6.5e-3,5.5e-3,6.0e-3,8.0e-3,9.0e-3, 10.5e-3,8.0e-3,7.0e-3,9.5e-3,10.0e-3,7.0e-3,9.0e-3,11.0e-3,9.0e-3,8.0e-3, 10.0e-3,8.5e-3,7.0e-3,8.0e-3,9.5e-3,8.0e-3,10.0e-3,8.5e-3,5.5e-3];
const A12_vTicks=['-10','-5','0'], A12_vDom=[-14,1];
const A12_eTicks=['0.000','0.005','0.010'], A12_eDom=[0,0.014];
const B12_actual=[0,-1,-6,-10,-11,-10,-11,-10,-12,-10, -11,-10,-12,-10,-11,-10,-12,-10,-11,-10, -11,-10,-12,-10,-11,-10,-11,-10,-12,-10, -11,-10,-12,-10,-11,-10,-11,-10,-12,-10, -11,-10,-12,-10,-11,-10,-11,-12,-10,-11];
const B12_recon=[0,-1,-5,-9,-10,-10,-10.5,-10,-11,-10, -10.5,-10,-11,-10,-10.5,-10,-11,-10,-10.5,-10, -10.5,-10,-11,-10,-10.5,-10,-10.5,-10,-11,-10, -10.5,-10,-11,-10,-10.5,-10,-10.5,-10,-11,-10, -10.5,-10,-11,-10,-10.5,-10,-10.5,-11,-10,-10.5];
const B12_error=[0.8e-3,0.7e-3,1.5e-3,4.5e-3,2.0e-3,1.8e-3,1.5e-3,3.5e-3,2.0e-3,1.5e-3, 1.8e-3,1.2e-3,1.5e-3,1.0e-3,0.8e-3,1.0e-3,0.7e-3,1.2e-3,0.8e-3,0.6e-3, 0.5e-3,0.7e-3,0.6e-3,0.8e-3,0.5e-3,0.4e-3,0.6e-3,0.4e-3,0.5e-3,0.4e-3, 0.3e-3,0.4e-3,0.5e-3,0.3e-3,0.4e-3,0.3e-3,0.35e-3,0.3e-3,0.4e-3,0.3e-3, 0.35e-3,0.3e-3,0.25e-3,0.3e-3,0.35e-3,0.3e-3,0.25e-3,0.3e-3,0.35e-3];
const B12_anom=[[6,4.5e-3]];
const B12_vTicks=['-10','-5','0'], B12_vDom=[-14,1];
const B12_eTicks=['0.000','0.001','0.002','0.003','0.004'], B12_eDom=[0,4.6e-3];

// ================= ROW 13 =================
const A13_actual=[0,0,-1,-2.6,-2.5,-2.6,-4,-2.8,-2.8,-2.9, -2.2,-2.6,-2.0,-2.8,-2.2,-1.6,-2.5,-2.0,-2.2,-1.5, -3.3,-1.5,-2.0,-1.5,-2.6,-1.3,-2.5,-1.8,-2.2,-1.2, -3.0,-1.7,-2.5,-1.4,-2.8,-1.8,-2.6,-1.3,-3.0,-1.5, -2.6,-1.2,-2.5,-1.5,-2.6,-1.2,-2.5,-1.3,-2.4,-1.3];
const A13_recon=[-3.5,-1.0,-1.2,-3.2,-2.5,-0.8,-2.2,-1.8,-2.0,-1.6, -1.0,-1.8,-0.6,-1.4,-0.8,-1.5,-0.5,-1.0,-0.3,-1.2, 0.6,-0.8,-0.2,-1.0,-0.4,-1.0,0.0,-0.8,-0.2,0.5, -1.0,-0.3,0.3,-0.8,0.0,0.5,-0.8,0.6,-0.6,0.0, -0.5,0.4,-0.4,0.0,-0.8,0.2,-0.3,0.3,-0.2,0.0];
const A13_error=[1.0e-3,1.2e-3,1.5e-3,1.0e-3,0.8e-3,0.6e-3,0.7e-3,0.9e-3,1.1e-3,1.3e-3, 1.5e-3,1.2e-3,1.4e-3,1.3e-3,1.6e-3,1.5e-3,1.8e-3,2.0e-3,1.6e-3,1.4e-3, 1.3e-3,1.5e-3,1.7e-3,1.4e-3,1.6e-3,1.5e-3,1.7e-3,1.9e-3,2.0e-3,2.3e-3, 2.0e-3,1.8e-3,2.1e-3,2.5e-3,2.2e-3,2.0e-3,2.3e-3,2.1e-3,1.9e-3,2.2e-3, 2.4e-3,2.0e-3,1.8e-3,2.1e-3,2.3e-3,2.0e-3,2.6e-3,2.8e-3,2.0e-3];
const A13_vTicks=['-4','-3','-2','-1','0','1'], A13_vDom=[-4,1];
const A13_eTicks=['0.0000','0.0005','0.0010','0.0015','0.0020','0.0025'], A13_eDom=[0,2.8e-3];
const B13_actual=[-1.2,0.0,0.0,-1.0,-2.7,-2.6,-2.6,-2.8,-2.9,-3.0, -2.8,-2.4,-1.8,-2.6,-2.0,-2.4,-2.2,-2.0,-1.5,-2.2, -1.0,0.0,-2.5,-1.5,-2.8,-2.0,-1.2,-2.5,-1.0,0.0, -2.0,-1.5,-2.8,-1.8,0.0,-2.4,-1.5,-2.6,0.0,-1.8, -2.5,-1.5,-2.0,-2.6,-1.8,-2.2,-1.5,-2.4,-1.3,-1.2];
const B13_recon=[-0.8,0.8,0.3,-1.5,-3.5,-2.8,-3.6,-4.0,-3.5,-3.0, -2.5,-2.2,-2.0,-2.8,-2.6,-2.2,-2.4,-2.0,-1.8,-2.0, -1.5,-1.2,-2.2,-1.8,-2.5,-1.8,-1.5,-2.0,-1.5,-1.2, -2.0,-1.6,-2.2,-1.5,-1.0,-2.0,-1.5,-2.2,-1.2,-1.8, -2.2,-1.6,-2.0,-2.2,-1.6,-1.8,-1.4,-1.6,-1.0,-0.8];
const B13_error=[0.6e-3,0.5e-3,0.3e-3,0.4e-3,0.2e-3,0.3e-3,0.5e-3,0.3e-3,0.2e-3,0.4e-3, 0.3e-3,0.5e-3,0.4e-3,0.2e-3,0.3e-3,0.4e-3,0.3e-3,0.2e-3,0.35e-3,0.4e-3, 0.3e-3,0.35e-3,0.4e-3,0.65e-3,0.45e-3,0.4e-3,0.3e-3,0.2e-3,0.25e-3,0.3e-3, 0.4e-3,0.25e-3,0.3e-3,0.35e-3,0.2e-3,0.3e-3,0.35e-3,0.25e-3,0.3e-3,0.2e-3, 0.3e-3,0.35e-3,0.25e-3,0.3e-3,0.4e-3,0.3e-3,0.35e-3,0.4e-3,0.45e-3];
const B13_vTicks=['-4','-2','0'], B13_vDom=[-4.5,1.5];
const B13_eTicks=['0.0000','0.0002','0.0004','0.0006'], B13_eDom=[0,7e-4];

// ================= ROW 14 =================
const A14_actual=[12,3,10,13,10,15,10,12,20,15, 28,15,25,12,30,15,25,30,35,15, 25,20,35,30,35,28,33,30,38,30, 28,32,48,30,28,33,30,35,45,38, 35,30,45,38,40,35,30,45,40,42];
const A14_recon=[15,8,12,15,12,17,12,14,21,17, 27,17,24,15,28,17,24,28,32,18, 24,21,32,29,33,28,31,30,36,30, 28,31,44,30,29,32,30,34,40,36, 33,31,40,36,37,33,30,38,37,38];
const A14_error=[2.5e-3,3.0e-3,4.5e-3,3.5e-3,5.0e-3,5.5e-3,4.5e-3,4.8e-3,6.5e-3,3.0e-3, 1.2e-3,1.5e-3,2.0e-3,3.8e-3,1.5e-3,1.2e-3,2.2e-3,3.5e-3,4.5e-3,1.5e-3, 1.2e-3,1.4e-3,1.5e-3,1.0e-3,1.4e-3,1.0e-3,0.8e-3,0.5e-3,0.7e-3,0.6e-3, 0.5e-3,0.4e-3,0.8e-3,0.6e-3,0.5e-3,1.5e-3,2.2e-3,1.6e-3,0.8e-3,1.2e-3, 1.8e-3,1.6e-3,1.7e-3,4.0e-3,1.6e-3,5.0e-3,4.6e-3,3.0e-3,7.6e-3];
const A14_vTicks=['0','10','20','30','40','50'], A14_vDom=[0,50];
const A14_eTicks=['0.000','0.002','0.004','0.006','0.008'], A14_eDom=[0,8e-3];
const B14_actual=[12,5,12,15,12,18,12,15,22,18, 30,18,28,15,32,18,28,32,38,18, 28,22,38,32,38,30,35,32,40,32, 30,35,50,32,30,35,32,38,48,40, 38,32,48,40,42,38,32,48,42,45];
const B14_recon=[14,8,13,16,13,18,13,16,22,18, 29,19,27,17,31,19,27,31,36,20, 27,23,36,31,36,30,34,32,38,32, 30,34,46,32,31,34,32,37,45,39, 37,33,45,39,40,37,33,45,41,43];
const B14_error=[1.3e-3,2.8e-3,2.6e-3,2.0e-3,1.5e-3,0.9e-3,2.2e-3,1.0e-3,0.3e-3,0.25e-3, 1.2e-3,0.8e-3,0.4e-3,1.0e-3,0.5e-3,1.0e-3,0.6e-3,0.3e-3,0.2e-3,0.15e-3, 0.2e-3,0.3e-3,1.0e-3,0.3e-3,0.25e-3,0.55e-3,0.2e-3,0.15e-3,0.1e-3,0.2e-3, 0.15e-3,0.25e-3,0.15e-3,0.2e-3,0.1e-3,0.25e-3,0.1e-3,0.2e-3,0.08e-3,0.1e-3, 0.15e-3,0.08e-3,0.1e-3,0.15e-3,0.1e-3,0.12e-3,0.15e-3,0.12e-3,0.2e-3];
const B14_anom=[[-1.5,2.66e-3],[-0.7,2.5e-3],[0,2.9e-3],[1,2.2e-3],[2.2,2.8e-3],[3,3.2e-3],[3.7,3.6e-3],[4.3,3.0e-3],[5,2.3e-3],[7,2.2e-3],[14.8,2.1e-3],[15.4,2.3e-3]];
const B14_vTicks=['0','20','40','60'], B14_vDom=[0,60];
const B14_eTicks=['0.000','0.001','0.002','0.003','0.004'], B14_eDom=[0,4e-3];

// ---------------- rendering ----------------
Chart.defaults.font.family = "'Liberation Sans', Arial, sans-serif";
const ROW_PITCH = 95.4, CANVAS_H = 95;
const COLS = [
  {left:0,   width:254, padL:4.7, padR:7,  kind:'value', model:'A'},
  {left:254, width:254, padL:6.5, padR:6,  kind:'error', model:'A'},
  {left:546, width:254, padL:7.5, padR:7,  kind:'value', model:'B'},
  {left:802, width:258, padL:4.7, padR:10, kind:'error', model:'B'}
];
function get(name){ try { return eval(name); } catch(e){ return undefined; } }

const frame = {
  id:'frame',
  beforeDatasetsDraw(chart){
    const a = chart.chartArea, c = chart.ctx;
    c.save(); c.strokeStyle = '#dddddd'; c.lineWidth = 0.5;
    c.strokeRect(a.left, a.top, a.right - a.left, a.bottom - a.top);
    c.restore();
  }
};

const GRID = {color:'#e3e3e3', lineWidth:0.5, tickLength:2.5, tickColor:'#888', tickWidth:0.5};
const BORDER = {color:'#888', width:0.5};
function xAxis(range){
  return {type:'linear', min:range[0], max:range[1],
    afterBuildTicks: s => { s.ticks = X_TICK_DAYS.map(v => ({value:v})); },
    afterFit: s => { s.height = 16; },
    ticks:{callback:(v,i)=>X_TICK_LABELS[i], font:{size:5}, color:'#333', padding:0.5, maxRotation:0, minRotation:0, autoSkip:false},
    grid:GRID, border:BORDER,
    title:{display:true, text:'Time', font:{size:5.5, weight:'bold'}, color:'#111', padding:{top:0, bottom:0.2}}
  };
}
function yAxis(dom, labels, title){
  return {type:'linear', min:dom[0], max:dom[1],
    afterBuildTicks: s => { s.ticks = labels.map(t => ({value:parseFloat(t)})); },
    ticks:{callback:(v,i)=>labels[i], font:{size:5}, color:'#333', padding:1, autoSkip:false},
    grid:GRID, border:BORDER,
    title:{display:true, text:title, font:{size:5.5, weight:'bold'}, color:'#111', padding:{top:0, bottom:1}}
  };
}
// evenly spaced samples across the given time range
const toXY = (arr, range) => arr.map((v,i) => ({x: range[0] + i*(range[1]-range[0])/(arr.length-1), y: v}));

for (let r = 0; r < 14; r++) {
  COLS.forEach(col => {
    const p = col.model + (r+1);
    const cv = document.createElement('canvas');
    cv.width = col.width; cv.height = CANVAS_H;
    cv.style.left = col.left + 'px'; cv.style.top = (r*ROW_PITCH) + 'px';
    cv.style.width = col.width + 'px'; cv.style.height = CANVAS_H + 'px';
    document.body.appendChild(cv);
    let datasets, xa, ya;
    if (col.kind === 'value') {
      const dense = get(p+'_actual').length > 60;
      datasets = [
        {data: toXY(get(p+'_recon'), VALUE_RANGE), borderColor:'#ff7f0e', borderWidth:dense?1.0:1.1, borderDash:[2.5,1.5], pointRadius:0, tension:0, fill:false},
        {data: toXY(get(p+'_actual'), VALUE_RANGE), borderColor:'#1f77b4', borderWidth:dense?1.0:1.2, pointRadius:0, tension:0, fill:false}
      ];
      xa = xAxis(VALUE_RANGE); ya = yAxis(get(p+'_vDom'), get(p+'_vTicks'), 'Value');
    } else {
      datasets = [];
      const an = get(p+'_anom');
      if (an) datasets.push({data: an.map(d => ({x:d[0], y:d[1]})), showLine:false, pointRadius:2.2, pointBorderWidth:0.7,
        pointBackgroundColor:'rgba(255,60,60,0.35)', pointBorderColor:'rgba(235,20,20,0.9)', borderColor:'rgba(0,0,0,0)'});
      datasets.push({data: toXY(get(p+'_error'), ERROR_RANGE), borderColor:'#4c78a8', borderWidth:1, pointRadius:0, tension:0, fill:false});
      xa = xAxis(ERROR_RANGE); ya = yAxis(get(p+'_eDom'), get(p+'_eTicks'), 'Reconstruction Error');
    }
    new Chart(cv, {
      type:'line',
      data:{datasets},
      options:{
        responsive:false, animation:false, devicePixelRatio:2,
        layout:{padding:{top:3, bottom:8.5, left:col.padL, right:col.padR}},
        plugins:{legend:{display:false}, tooltip:{enabled:false}},
        scales:{x:xa, y:ya}
      },
      plugins:[frame]
    });
  });
}
</script>
</body></html>
